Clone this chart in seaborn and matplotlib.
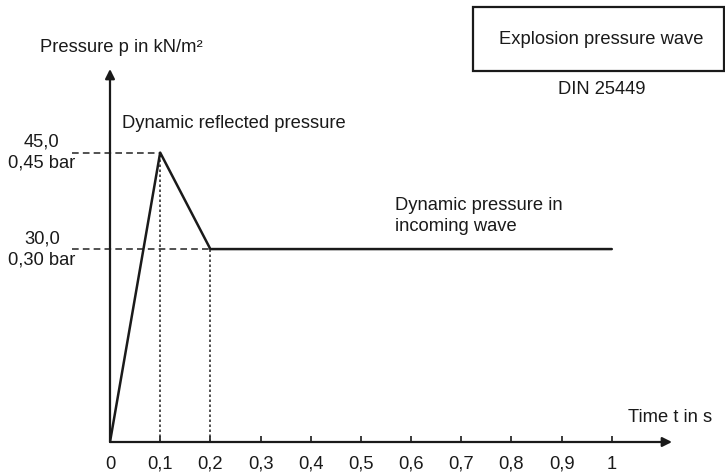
import matplotlib
matplotlib.use("Agg")
import matplotlib.pyplot as plt
import seaborn as sns
import pandas as pd

# Pressure-time profile of the explosion pressure wave (DIN 25449)
time_s = [0.0, 0.1, 0.2, 1.0]
pressure_kn = [0.0, 45.0, 30.0, 30.0]

x_ticks = [0, 0.1, 0.2, 0.3, 0.4, 0.5, 0.6, 0.7, 0.8, 0.9, 1.0]
x_tick_labels = ["0", "0,1", "0,2", "0,3", "0,4", "0,5", "0,6", "0,7", "0,8", "0,9", "1"]

level_values = [45.0, 30.0]
level_labels = ["45,0\n0,45 bar", "30,0\n0,30 bar"]
level_times = [0.1, 0.2]

sns.set_theme(style="white")
plt.rcParams["font.family"] = ["Liberation Sans", "DejaVu Sans"]

FS = 13.2
INK = "#1a1a1a"

fig = plt.figure(figsize=(7.25, 4.75), dpi=100)
ax = fig.add_axes([110 / 725, 33 / 475, 562 / 725, 373 / 475])
ax.set_xlim(0, 1.12)
ax.set_ylim(0, 58)

df = pd.DataFrame({"t": time_s, "p": pressure_kn})
sns.lineplot(data=df, x="t", y="p", sort=False, estimator=None,
             color=INK, lw=1.8, ax=ax, zorder=4)

# Reference levels: dashed to the y axis, dotted down to the time axis
for t, p in zip(level_times, level_values):
    ax.plot([-0.076, t], [p, p], ls=(0, (4, 2.5)), color="#333333", lw=1.2,
            clip_on=False, zorder=3)
    ax.plot([t, t], [0, p], ls=(0, (1.5, 1.5)), color="#333333", lw=1.2,
            zorder=3)

for p, lab in zip(level_values, level_labels):
    ax.text(-0.136, p, lab, ha="center", va="center", multialignment="center",
            fontsize=FS, color=INK, linespacing=1.3, clip_on=False)

# Axes drawn as arrows
for s in ax.spines.values():
    s.set_visible(False)
arrow = dict(arrowstyle="-|>", lw=1.6, color=INK, shrinkA=0, shrinkB=0,
             mutation_scale=14)
ax.annotate("", xy=(1.12, 0), xytext=(0, 0), xycoords="data", arrowprops=arrow,
            annotation_clip=False)
ax.annotate("", xy=(0, 58), xytext=(0, 0), xycoords="data", arrowprops=arrow,
            annotation_clip=False)

ax.set_xticks(x_ticks)
ax.set_xticklabels(x_tick_labels)
ax.set_yticks([])
ax.tick_params(axis="x", direction="in", length=4, width=1.2, color=INK,
               labelsize=FS, labelcolor=INK, pad=10, bottom=True)
ax.set_xlabel("")
ax.set_ylabel("")
ax.grid(False)

# Annotations
fig.text(40 / 725, 1 - 48 / 475, "Pressure p in kN/m²", ha="left", va="center",
         fontsize=FS, color=INK)
fig.text(628 / 725, 1 - 418 / 475, "Time t in s", ha="left", va="center",
         fontsize=FS, color=INK)
fig.text(122 / 725, 1 - 123 / 475, "Dynamic reflected pressure", ha="left",
         va="center", fontsize=FS, color=INK)
fig.text(395 / 725, 1 - 216 / 475, "Dynamic pressure in\nincoming wave",
         ha="left", va="center", fontsize=FS, color=INK, linespacing=1.35)

# Title box
box = plt.Rectangle((473 / 725, 1 - 71 / 475), 251 / 725, 64 / 475,
                    transform=fig.transFigure, fill=False, ec=INK, lw=1.6)
fig.add_artist(box)
fig.text(601 / 725, 1 - 40 / 475, "Explosion pressure wave", ha="center",
         va="center", fontsize=FS, color=INK)
fig.text(602 / 725, 1 - 90 / 475, "DIN 25449", ha="center", va="center",
         fontsize=FS, color=INK)

fig.savefig("out.png", dpi=100, facecolor="white")
